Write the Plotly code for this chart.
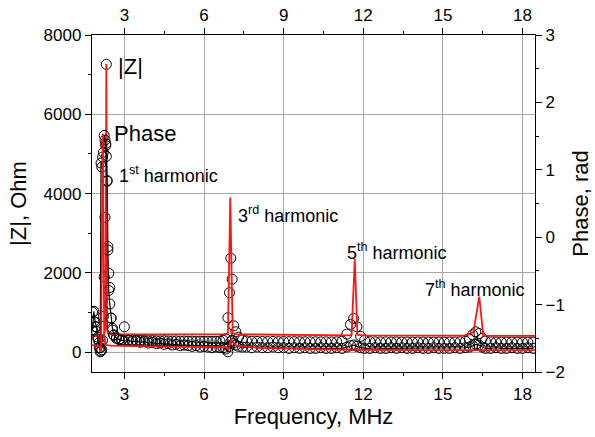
import plotly.graph_objects as go

# ---------------- data ----------------
# measured frequency points (MHz)
f_meas = [1.80, 1.85, 1.90, 1.95, 2.00, 2.05, 2.09, 2.12, 2.15, 2.18,
          2.21, 2.24, 2.27, 2.30, 2.32, 2.35, 2.38, 2.41, 2.45, 2.50,
          2.55, 2.60, 2.70, 2.80, 2.90, 3.00, 3.15, 3.30, 3.45, 3.60,
          3.75, 3.90, 4.05, 4.20, 4.35, 4.50, 4.65, 4.80, 4.95, 5.10,
          5.25, 5.40, 5.55, 5.70, 5.85, 6.00, 6.15, 6.30, 6.45, 6.60,
          6.72, 6.82, 6.90, 6.96, 7.01, 7.06, 7.12, 7.20, 7.30, 7.45,
          7.60, 7.80, 8.00, 8.20, 8.40, 8.60, 8.80, 9.00, 9.20, 9.40,
          9.60, 9.80, 10.00, 10.20, 10.40, 10.60, 10.80, 11.00, 11.20, 11.38,
          11.52, 11.64, 11.76, 11.90, 12.05, 12.25, 12.45, 12.65, 12.85, 13.05,
          13.25, 13.45, 13.65, 13.85, 14.05, 14.25, 14.45, 14.65, 14.85, 15.05,
          15.25, 15.45, 15.65, 15.85, 16.00, 16.12, 16.24, 16.36, 16.48, 16.60,
          16.80, 17.00, 17.20, 17.40, 17.60, 17.80, 18.00, 18.20, 18.40]

# measured |Z| (Ohm)
z_meas = [1010, 770, 640, 520, 380, 240, 110, 30, 60, 300,
          900, 1900, 3400, 5260, 7260, 4330, 2660, 1990, 1630, 860,
          560, 430, 360, 330, 320, 640, 305, 300, 298, 295,
          293, 290, 292, 288, 286, 290, 284, 282, 285, 280,
          282, 278, 280, 276, 278, 274, 276, 272, 274, 280,
          300, 340, 870, 1500, 2370, 1840, 665, 515, 380, 310,
          285, 275, 272, 270, 268, 270, 266, 268, 265, 266,
          264, 265, 262, 263, 261, 262, 260, 262, 280, 455,
          700, 850, 640, 400, 300, 265, 262, 260, 261, 259,
          260, 258, 259, 257, 258, 256, 257, 255, 256, 255,
          256, 258, 262, 275, 320, 440, 515, 470, 350, 280,
          262, 256, 255, 254, 255, 253, 254, 253, 254]

# measured phase (rad)
ph_meas = [-1.38, -1.10, -1.26, -1.33, -1.51, -1.64, -1.70, 1.10, 1.04, 1.19,
           1.26, 1.51, 1.44, 1.36, 1.20, 0.83, -0.19, -0.79, -0.99, -1.20,
           -1.35, -1.45, -1.50, -1.52, -1.53, -1.54, -1.53, -1.55, -1.54, -1.56,
           -1.55, -1.57, -1.56, -1.58, -1.57, -1.59, -1.58, -1.60, -1.59, -1.61,
           -1.60, -1.61, -1.62, -1.61, -1.63, -1.62, -1.63, -1.64, -1.63, -1.64,
           -1.64, -1.66, -1.70, -1.62, -1.55, -1.53, -1.57, -1.60, -1.62, -1.63,
           -1.63, -1.64, -1.63, -1.64, -1.64, -1.63, -1.64, -1.64, -1.65, -1.64,
           -1.65, -1.64, -1.65, -1.65, -1.64, -1.65, -1.65, -1.64, -1.65, -1.63,
           -1.61, -1.60, -1.62, -1.64, -1.65, -1.65, -1.64, -1.65, -1.65, -1.64,
           -1.65, -1.64, -1.65, -1.65, -1.64, -1.65, -1.65, -1.64, -1.65, -1.65,
           -1.65, -1.64, -1.65, -1.64, -1.63, -1.61, -1.59, -1.60, -1.63, -1.65,
           -1.65, -1.64, -1.65, -1.65, -1.64, -1.65, -1.65, -1.64, -1.65]

# fitted |Z| (Ohm)
f_zfit = [1.78, 2.00, 2.07, 2.10, 2.12, 2.15, 2.22, 2.29, 2.32, 2.35,
          2.38, 2.60, 4.00, 6.00, 6.90, 6.99, 7.08, 7.20, 9.00, 11.50,
          11.56, 11.68, 11.78, 12.00, 15.80, 16.15, 16.37, 16.52, 16.70, 18.47]
z_fit = [410, 405, 350, 150, 50, 300, 420, 600, 7270, 600,
         470, 455, 452, 445, 450, 3900, 480, 450, 435, 425,
         440, 2350, 440, 425, 418, 500, 1400, 425, 412, 410]

# fitted phase (rad)
f_phfit = [1.78, 2.05, 2.10, 2.12, 2.19, 2.24, 2.30, 2.50, 4.00, 6.80,
           6.92, 7.03, 7.20, 8.00, 10.00, 11.60, 11.70, 11.80, 14.00, 18.47]
ph_fit = [-1.60, -1.62, -1.66, -1.70, 1.54, -1.45, -1.60, -1.61, -1.62, -1.63,
          -1.67, -1.52, -1.61, -1.64, -1.66, -1.67, -1.65, -1.67, -1.675, -1.675]

x_range = [1.78, 18.47]
z_range = [-500, 8000]
ph_range = [-2, 3]

FONT = "Liberation Sans, Arial, sans-serif"
RED = "#ff1414"

fig = go.Figure()

circle = dict(symbol="circle-open", size=10, color="black", line=dict(width=1, color="black"))

fig.add_trace(go.Scatter(x=f_meas, y=z_meas, mode="markers", marker=circle,
                         showlegend=False, hoverinfo="skip"))
fig.add_trace(go.Scatter(x=f_meas, y=ph_meas, mode="lines+markers", marker=circle,
                         line=dict(color="black", width=1.2),
                         yaxis="y2", showlegend=False, hoverinfo="skip"))
fig.add_trace(go.Scatter(x=f_zfit, y=z_fit, mode="lines",
                         line=dict(color=RED, width=1.8),
                         showlegend=False, hoverinfo="skip"))
fig.add_trace(go.Scatter(x=f_phfit, y=ph_fit, mode="lines",
                         line=dict(color=RED, width=1.8),
                         yaxis="y2", showlegend=False, hoverinfo="skip"))
# invisible trace to anchor the top axis
fig.add_trace(go.Scatter(x=f_meas[:1], y=z_meas[:1], xaxis="x2", mode="markers",
                         marker=dict(opacity=0), showlegend=False, hoverinfo="skip"))

tickfont = dict(family=FONT, size=17, color="black")
titlefont = dict(family=FONT, size=22, color="black")

common = dict(ticks="outside", ticklen=6, tickwidth=1.3, tickcolor="black",
              showline=True, linecolor="black", linewidth=1.3, zeroline=False,
              tickfont=tickfont, automargin=False)

fig.update_layout(
    width=595, height=437,
    margin=dict(l=92, r=60, t=35, b=65),
    paper_bgcolor="white", plot_bgcolor="white",
    font=dict(family=FONT, color="black"),
    xaxis=dict(range=x_range, tick0=3, dtick=3,
               showgrid=True, gridcolor="#a6a6a6", gridwidth=1,
               minor=dict(dtick=1.5, tick0=3, ticklen=3, tickwidth=1.2, tickcolor="black", showgrid=False),
               title=dict(text="Frequency, MHz", font=titlefont, standoff=6), **common),
    xaxis2=dict(range=x_range, overlaying="x", side="top", anchor="y",
                tick0=3, dtick=3, showgrid=False,
                minor=dict(dtick=1.5, tick0=3, ticklen=3, tickwidth=1.2, tickcolor="black", showgrid=False),
                **common),
    yaxis=dict(range=z_range, tick0=0, dtick=2000,
               showgrid=True, gridcolor="#a6a6a6", gridwidth=1,
               minor=dict(dtick=1000, tick0=0, ticklen=3, tickwidth=1.2, tickcolor="black", showgrid=False),
               title=dict(text="|Z|, Ohm", font=titlefont, standoff=10), **common),
    yaxis2=dict(range=ph_range, overlaying="y", side="right", anchor="x",
                tick0=-2, dtick=1, showgrid=False,
                minor=dict(dtick=0.5, tick0=-2, ticklen=3, tickwidth=1.2, tickcolor="black", showgrid=False),
                title=dict(text="Phase, rad", font=titlefont, standoff=8), **common),
)

big = dict(family=FONT, size=22, color="black")
mid = dict(family=FONT, size=18, color="black")
NB = "\u00a0"
annots = [
    ("|Z|", 2.70, 7210, big),
    ("Phase", 2.55, 5515, big),
    ("1<sup>st</sup>" + NB + "harmonic", 2.74, 4470, mid),
    ("3<sup>rd</sup>" + NB + "harmonic", 7.20, 3475, mid),
    ("5<sup>th</sup>" + NB + "harmonic", 11.31, 2550, mid),
    ("7<sup>th</sup>" + NB + "harmonic", 14.25, 1615, mid),
]
for txt, ax, ay, fnt in annots:
    fig.add_annotation(x=ax, y=ay, xref="x", yref="y", text=txt, showarrow=False,
                       xanchor="left", yanchor="middle", font=fnt)

fig.write_html("out.html", config={"displayModeBar": False},
               post_script="document.body.style.margin='0';document.body.style.padding='0';")
